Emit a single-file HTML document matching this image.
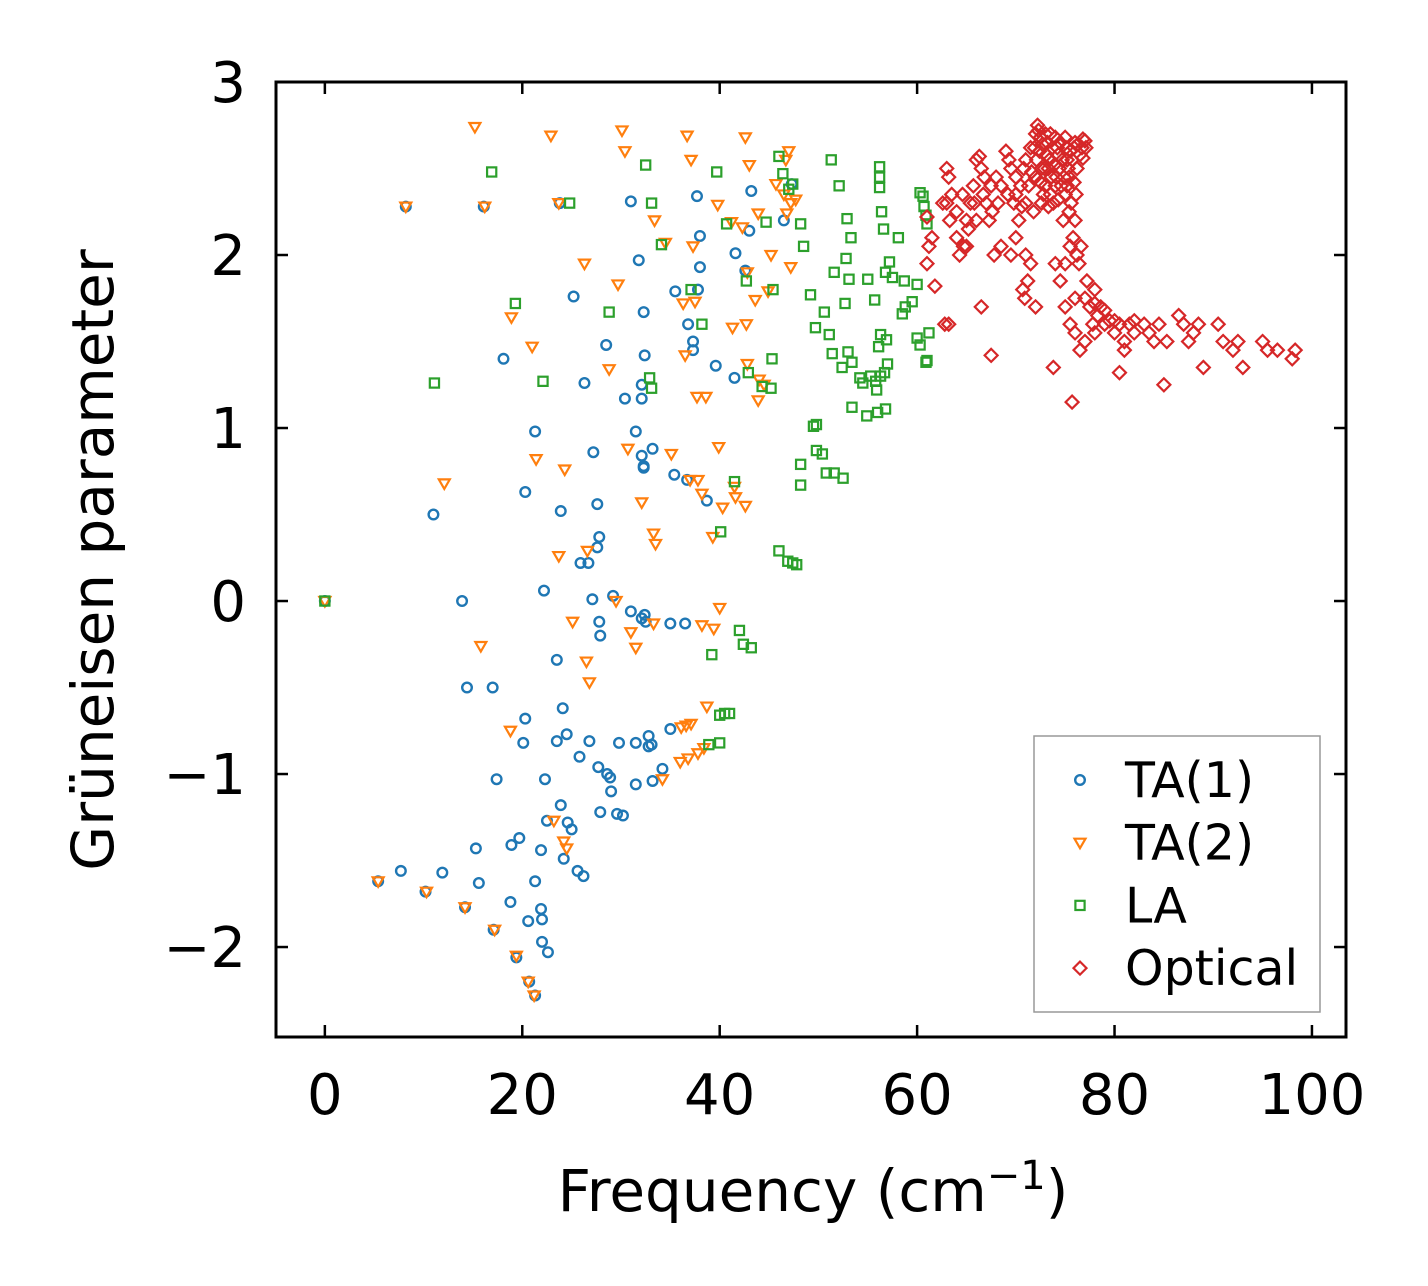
<!DOCTYPE html>
<html><head><meta charset="utf-8">
<style>
html,body{margin:0;padding:0;background:#fff;}
svg{display:block;font-family:"DejaVu Sans","Liberation Sans",sans-serif;}
</style></head>
<body>
<svg id="chart" width="1428" height="1286" viewBox="0 0 1428 1286" xmlns="http://www.w3.org/2000/svg">
<rect width="1428" height="1286" fill="#fff"/>
<g id="marks"></g>
<g id="axes"></g>
</svg>
<script>
const xTicks=[0,20,40,60,80,100];
const yTicks=[-2,-1,0,1,2,3];
const yTickLabels=["\u22122","\u22121","0","1","2","3"];
const seriesNames=["TA(1)","TA(2)","LA","Optical"];
const ta1=[[0,0],[8.2,2.28],[16.1,2.28],[23.8,2.3],[31,2.31],[37.7,2.34],[43.2,2.37],[47.3,2.41],[46.5,2.2],[43,2.14],[42.6,1.91],[41.6,2.01],[38,2.11],[38,1.93],[37.8,1.8],[35.5,1.79],[31.8,1.97],[32.3,1.67],[25.2,1.76],[28.5,1.48],[32.4,1.42],[36.8,1.6],[37.3,1.5],[37.3,1.45],[18.1,1.4],[26.3,1.26],[32.1,1.25],[30.4,1.17],[32.1,1.17],[39.6,1.36],[41.5,1.29],[21.3,0.98],[31.5,0.98],[27.2,0.86],[32.1,0.84],[33.2,0.88],[32.3,0.77],[32.3,0.78],[35.4,0.73],[36.7,0.7],[38.7,0.58],[20.3,0.63],[11,0.5],[23.9,0.52],[27.6,0.56],[27.8,0.37],[27.6,0.31],[25.9,0.22],[26.7,0.22],[22.2,0.06],[27.1,0.01],[29.2,0.03],[13.9,0],[31,-0.06],[32.4,-0.08],[32.1,-0.1],[32.5,-0.12],[27.8,-0.12],[27.9,-0.2],[35,-0.13],[36.5,-0.13],[23.5,-0.34],[14.4,-0.5],[17,-0.5],[24.1,-0.62],[20.3,-0.68],[20.1,-0.82],[23.5,-0.81],[24.5,-0.77],[26.8,-0.81],[29.8,-0.82],[31.5,-0.82],[32.8,-0.78],[33.1,-0.83],[32.8,-0.84],[35,-0.74],[25.8,-0.9],[27.7,-0.96],[28.6,-1.0],[28.9,-1.02],[29,-1.1],[33.2,-1.04],[34.2,-0.97],[31.5,-1.06],[17.4,-1.03],[22.3,-1.03],[23.9,-1.18],[22.5,-1.27],[24.6,-1.28],[25,-1.32],[27.9,-1.22],[29.6,-1.23],[30.2,-1.24],[19.7,-1.37],[18.9,-1.41],[21.9,-1.44],[24.2,-1.49],[15.3,-1.43],[25.6,-1.56],[26.2,-1.59],[21.3,-1.62],[15.6,-1.63],[11.9,-1.57],[7.7,-1.56],[5.4,-1.62],[10.2,-1.68],[14.2,-1.77],[18.8,-1.74],[21.9,-1.78],[22,-1.84],[20.6,-1.85],[17.1,-1.9],[22,-1.97],[22.6,-2.03],[19.4,-2.06],[20.7,-2.2],[21.3,-2.28]];
const ta2=[[0,0],[15.2,2.74],[22.9,2.69],[30.1,2.72],[36.7,2.69],[42.6,2.68],[47,2.6],[46.7,2.55],[37.1,2.55],[30.4,2.6],[43,2.52],[45.7,2.41],[46.5,2.35],[47.2,2.3],[47.7,2.32],[46.8,2.24],[43.9,2.24],[39.8,2.29],[33.4,2.2],[34.5,2.07],[37.3,2.05],[41.2,2.19],[42.3,2.16],[42.8,1.9],[45.2,2.0],[47.2,1.93],[44.9,1.79],[43.6,1.74],[37.5,1.73],[26.3,1.95],[29.7,1.83],[18.9,1.64],[21,1.47],[28.8,1.34],[36.3,1.72],[41.3,1.58],[42.7,1.6],[36.5,1.42],[42.8,1.37],[44,1.28],[44.5,1.25],[43.9,1.16],[37.7,1.18],[38.6,1.18],[12.1,0.68],[21.4,0.82],[24.3,0.76],[30.7,0.88],[35.1,0.85],[39.9,0.89],[37,0.7],[37.8,0.7],[38.2,0.62],[41.5,0.66],[41.6,0.6],[40.3,0.54],[42.6,0.55],[32.1,0.57],[33.3,0.39],[33.5,0.33],[39.3,0.37],[23.7,0.26],[26.6,0.29],[29.5,0.0],[40,-0.04],[25.1,-0.12],[31,-0.18],[33.3,-0.13],[38.2,-0.14],[39.4,-0.16],[31.5,-0.27],[15.8,-0.26],[26.5,-0.35],[26.8,-0.47],[38.7,-0.61],[37.1,-0.71],[36.6,-0.72],[36.1,-0.73],[18.8,-0.75],[36,-0.93],[36.8,-0.91],[37.8,-0.88],[38.4,-0.85],[34.2,-1.03],[24.2,-1.39],[24.5,-1.43],[5.4,-1.62],[10.3,-1.68],[14.2,-1.77],[17.2,-1.9],[19.4,-2.05],[20.6,-2.2],[21.2,-2.28],[8.2,2.28],[16.2,2.28],[23.7,2.3],[23.2,-1.27]];
const la=[[0,0],[16.9,2.48],[19.3,1.72],[11.1,1.26],[22.1,1.27],[24.8,2.3],[28.8,1.67],[32.5,2.52],[33.1,2.3],[34.1,2.06],[32.9,1.29],[33.1,1.23],[38.2,1.6],[37.1,1.8],[39.7,2.48],[40.7,2.18],[44.7,2.19],[42.7,1.85],[42.9,1.32],[44.3,1.24],[45.3,1.4],[45.2,1.23],[45.4,1.8],[48.2,2.18],[46,2.57],[46.4,2.47],[47,2.38],[47.4,2.41],[48.5,2.05],[49.2,1.77],[51.3,2.55],[52.1,2.4],[52.8,1.98],[52.9,2.21],[53.3,2.1],[51.6,1.9],[53.1,1.86],[55,1.86],[55.7,1.74],[56.2,2.51],[56.2,2.45],[56.2,2.39],[56.4,2.25],[56.6,2.15],[57.2,1.96],[57.5,1.87],[56.8,1.9],[58.1,2.1],[58.7,1.85],[58.8,1.7],[59.5,1.73],[60,1.83],[60.3,2.36],[60.6,2.34],[60.7,2.28],[60.9,2.23],[61,2.18],[60,1.52],[60.3,1.48],[61.2,1.55],[61,1.39],[60.9,1.38],[58.5,1.66],[56.9,1.51],[56.3,1.54],[56.1,1.47],[52.7,1.72],[50.6,1.67],[51.1,1.54],[49.7,1.58],[51.4,1.43],[52.4,1.35],[53,1.44],[53.4,1.38],[54.2,1.29],[54.5,1.26],[55.3,1.3],[55.8,1.27],[55.9,1.22],[56.3,1.3],[56.7,1.32],[57,1.37],[53.4,1.12],[54.9,1.07],[56,1.09],[56.8,1.11],[49.5,1.01],[49.8,1.02],[49.8,0.87],[50.4,0.85],[48.2,0.79],[50.8,0.74],[51.6,0.74],[52.5,0.71],[48.2,0.67],[41.5,0.69],[40.1,0.4],[46,0.29],[46.9,0.23],[47.4,0.22],[47.8,0.21],[42,-0.17],[42.4,-0.25],[43.2,-0.27],[39.2,-0.31],[40,-0.66],[40.5,-0.65],[41,-0.65],[40,-0.82],[38.9,-0.83]];
const optical=[[61,1.95],[61.2,2.05],[61.5,2.1],[61,2.22],[61.8,1.82],[62.6,2.3],[63,2.5],[63.2,2.45],[63.5,2.35],[63.3,2.2],[62.8,1.6],[63.2,1.6],[64,2.1],[64.3,2.0],[64.7,2.05],[65,2.2],[65.2,2.15],[65.4,2.3],[65.7,2.4],[66,2.55],[66.3,2.57],[66.5,2.5],[66.7,2.35],[67,2.3],[67.3,2.2],[67.8,2.0],[66.5,1.7],[67.5,1.42],[68,2.45],[68.5,2.4],[69,2.6],[69.3,2.55],[69.5,2.5],[69.8,2.3],[70,2.1],[70.3,2.2],[70.5,2.4],[70.7,1.8],[70.9,1.75],[71.2,1.85],[71.5,1.95],[71.8,2.25],[72,2.7],[72.2,2.75],[72.4,2.6],[72.6,2.5],[72.8,2.35],[73,2.7],[73.2,2.65],[73.4,2.55],[73.6,2.45],[73.8,2.3],[74,2.68],[74.2,2.62],[74.4,2.5],[74.6,2.4],[74.8,2.2],[75,2.68],[75.2,2.55],[75.4,2.45],[75.6,2.3],[75.8,2.1],[76,2.65],[76.2,2.0],[76.4,1.95],[76.6,2.05],[76.8,2.67],[77,2.66],[77.2,1.85],[77.5,1.7],[77.8,1.6],[78,1.72],[78.3,1.65],[78.6,1.7],[79,1.6],[79.5,1.62],[80,1.55],[80.5,1.6],[81,1.5],[81.5,1.6],[82,1.62],[83,1.6],[83.5,1.55],[84,1.5],[84.5,1.6],[85,1.25],[85.3,1.5],[86.5,1.65],[87,1.6],[87.5,1.5],[88,1.55],[88.5,1.6],[89,1.35],[90.5,1.6],[91,1.5],[92,1.45],[92.5,1.5],[93,1.35],[95,1.5],[95.5,1.45],[96.5,1.45],[98,1.4],[98.3,1.45],[74,1.95],[74.5,1.85],[75,1.7],[75.5,1.6],[76,1.55],[76.5,1.45],[75.7,1.15],[73.8,1.35],[72,1.7],[71,2.0],[69.5,2.0],[68.5,2.05],[66,2.2],[65,2.05],[64,2.25],[63,2.3],[67.5,2.4],[70,2.45],[71,2.55],[71.5,2.62],[72.5,2.68],[73.5,2.7],[74.5,2.65],[75.5,2.6],[76.5,2.58],[73,2.4],[74,2.4],[75,2.35],[72,2.45],[71,2.3],[70,2.35],[76,2.2],[75.5,2.05],[75,1.95],[77,1.75],[78,1.55],[79,1.68],[80,1.62],[81,1.45],[82,1.55],[80.5,1.32],[77,1.5],[78,1.8],[76,1.75],
[72.3,2.72],[72.7,2.64],[73.1,2.58],[73.3,2.5],[73.7,2.62],[73.9,2.52],[74.3,2.58],[74.7,2.55],[75.1,2.62],[75.3,2.5],[75.7,2.55],[75.9,2.62],[76.3,2.64],[76.7,2.62],[72.1,2.55],[72.5,2.42],[72.9,2.5],[73.5,2.35],[74.1,2.45],[74.9,2.45],[75.2,2.4],[71.6,2.48],[71.3,2.4],[70.8,2.5],[72.6,2.3],[73.3,2.28],[74.3,2.32],[75.9,2.42],[76.1,2.35],[75.4,2.25],[71.9,2.62],[70.6,2.28],[69.2,2.35],[68.2,2.3],[67.6,2.25],[66.8,2.45],[65.8,2.3],[64.6,2.35],[76.2,2.5],[76.8,2.56],[77.1,2.62]];

const NS="http://www.w3.org/2000/svg";
const L=276,R=1346,T=82,B=1037;
const xMin=-4.95,xMax=103.45,yMin=-2.52,yMax=3.0;
function sx(v){return L+(v-xMin)/(xMax-xMin)*(R-L);}
function sy(v){return B-(v-yMin)/(yMax-yMin)*(B-T);}
function mk(tag,attrs,parent){const e=document.createElementNS(NS,tag);for(const k in attrs)e.setAttribute(k,attrs[k]);parent.appendChild(e);return e;}
const colors=["#1f77b4","#ff7f0e","#2ca02c","#d62728"];
function marker(kind,cx,cy,color,parent){
  let e;
  if(kind===0){e=mk("circle",{cx:cx,cy:cy,r:4.8,fill:"none",stroke:color,"stroke-width":2.4},parent);}
  else if(kind===1){e=mk("polygon",{points:`${cx-5.5},${cy-4} ${cx+5.5},${cy-4} ${cx},${cy+5.5}`,fill:"none",stroke:color,"stroke-width":2.2},parent);}
  else if(kind===2){e=mk("rect",{x:cx-4.6,y:cy-4.6,width:9.2,height:9.2,fill:"none",stroke:color,"stroke-width":2.2},parent);}
  else {e=mk("polygon",{points:`${cx},${cy-6.5} ${cx+6.5},${cy} ${cx},${cy+6.5} ${cx-6.5},${cy}`,fill:"none",stroke:color,"stroke-width":2.2},parent);}
  return e;
}
const marks=document.getElementById("marks");
const allSeries=[ta1,ta2,la,optical];
const seriesKeys=["ta1","ta2","la","optical"];
allSeries.forEach((s,i)=>{
  const g=mk("g",{},marks);
  
  
  s.forEach(p=>{
    const m=marker(i,sx(p[0]),sy(p[1]),colors[i],g);
    
    
  });
});
const ax=document.getElementById("axes");
const frame=mk("rect",{x:L,y:T,width:R-L,height:B-T,fill:"none",stroke:"#000","stroke-width":3},ax);


xTicks.forEach(v=>{
  const x=sx(v);
  mk("line",{x1:x,y1:B,x2:x,y2:B-12,stroke:"#000","stroke-width":2.5},ax);
  mk("line",{x1:x,y1:T,x2:x,y2:T+12,stroke:"#000","stroke-width":2.5},ax);
  const t=mk("text",{x:x,y:1114,"text-anchor":"middle","font-size":56,fill:"#000"},ax);
  t.textContent=String(v);
  
  
});
yTicks.forEach((v,i)=>{
  const y=sy(v);
  mk("line",{x1:L,y1:y,x2:L+12,y2:y,stroke:"#000","stroke-width":2.5},ax);
  mk("line",{x1:R,y1:y,x2:R-12,y2:y,stroke:"#000","stroke-width":2.5},ax);
  const t=mk("text",{x:246,y:y+20,"text-anchor":"end","font-size":56,fill:"#000"},ax);
  t.textContent=yTickLabels[i];
  
  
});
const xl=mk("text",{x:813,y:1211,"text-anchor":"middle","font-size":58,fill:"#000"},ax);
xl.innerHTML='Frequency (cm<tspan dy="-22" font-size="40">\u22121</tspan><tspan dy="22">)</tspan>';


const yl=mk("text",{x:0,y:0,"text-anchor":"middle","font-size":58,fill:"#000",transform:"translate(113,560) rotate(-90)"},ax);
yl.textContent="Grüneisen parameter";


const lg=mk("g",{},ax);


mk("rect",{x:1034,y:736,width:286,height:276,fill:"#fff",stroke:"#999","stroke-width":1.5},lg);
seriesNames.forEach((n,i)=>{
  const y=780+i*62.7;
  const m=marker(i,1080,y,colors[i],lg);
  
  
  const t=mk("text",{x:1125,y:y+17,"font-size":49,fill:"#000"},lg);
  t.textContent=n;
  
  
});
</script>
</body></html>
